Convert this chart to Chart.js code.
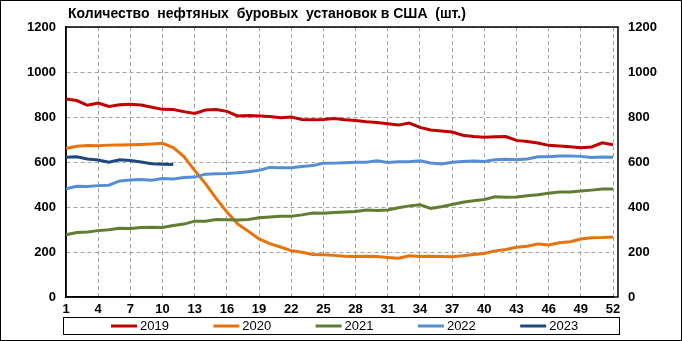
<!DOCTYPE html>
<html>
<head>
<meta charset="utf-8">
<script src="https://cdn.jsdelivr.net/npm/chart.js@4/dist/chart.umd.min.js"></script>
<style>
  html, body { margin: 0; padding: 0; background: #fff; }
</style>
</head>
<body>
<canvas id="chart" width="682" height="341"></canvas>
<script>
// weeks of the year
const weeks = ["1","2","3","4","5","6","7","8","9","10","11","12","13","14","15","16","17","18","19","20",
  "21","22","23","24","25","26","27","28","29","30","31","32","33","34","35","36","37","38","39","40",
  "41","42","43","44","45","46","47","48","49","50","51","52"];
const years = ["2019", "2020", "2021", "2022", "2023"];
const yTicks = [0, 200, 400, 600, 800, 1000, 1200];

const rigs2019 = [880, 873, 852, 862, 847, 854, 857, 853, 843, 834, 833, 824, 816, 831, 833, 825, 805, 807, 805, 802,
  797, 800, 789, 788, 789, 793, 788, 784, 779, 776, 770, 764, 773, 754, 742, 738, 733, 719, 713, 710,
  712, 713, 696, 691, 684, 674, 671, 668, 663, 667, 685, 677];
const rigs2020 = [660, 670, 673, 672, 675, 676, 677, 678, 680, 683, 664, 624, 562, 504, 438, 378, 325, 292, 258, 237,
  222, 206, 199, 189, 188, 185, 181, 180, 181, 180, 176, 172, 183, 180, 181, 180, 179, 183, 189, 193,
  205, 211, 221, 226, 236, 231, 241, 246, 258, 263, 264, 267];
const rigs2021 = [277, 287, 289, 295, 299, 306, 305, 309, 310, 309, 318, 324, 337, 337, 344, 343, 342, 344, 352, 356,
  359, 359, 365, 373, 372, 376, 378, 380, 387, 385, 387, 397, 405, 410, 394, 401, 411, 421, 428, 433,
  445, 443, 444, 450, 454, 461, 467, 467, 471, 475, 480, 480];
const rigs2022 = [481, 492, 491, 495, 497, 516, 520, 522, 519, 527, 524, 531, 533, 546, 548, 549, 552, 557, 563, 576,
  574, 574, 580, 584, 594, 595, 597, 599, 599, 605, 598, 601, 601, 605, 596, 591, 599, 602, 604, 602,
  610, 612, 610, 613, 623, 623, 627, 627, 625, 620, 622, 621];
const rigs2023 = [621, 623, 613, 609, 599, 610, 607, 600, 592, 590, 589];

const colors = ["#c00000", "#e8730c", "#617d31", "#558ed5", "#1f497d"];
const series = [rigs2019, rigs2020, rigs2021, rigs2022, rigs2023];

const titleText = "Количество  нефтяных  буровых  установок в США  (шт.)";
const FONT = "'Liberation Sans Narrow', 'Liberation Sans', Arial, sans-serif";

const decor = {
  id: "decor",
  beforeDatasetsDraw(chart) {
    // plot frame, a bit wider than the last week
    const a = chart.chartArea;
    const c = chart.ctx;
    c.save();
    c.strokeStyle = "#000";
    c.lineWidth = 1.5;
    c.strokeRect(a.left, a.top, 618 - a.left, a.bottom - a.top);
    c.restore();
  },
  afterDraw(chart) {
    const c = chart.ctx;
    c.save();
    c.fillStyle = "#000";
    c.font = "bold 14px " + FONT;
    c.textBaseline = "middle";
    c.textAlign = "left";
    c.fillText(titleText, 68, 14);
    // legend box
    c.strokeStyle = "#000";
    c.lineWidth = 1;
    c.strokeRect(63.5, 317.5, 556, 17);
    c.font = "13px " + FONT;
    chart.data.datasets.forEach((ds, i) => {
      const x = 111 + i * 102.3;
      c.strokeStyle = ds.borderColor;
      c.lineWidth = 3;
      c.beginPath();
      c.moveTo(x, 326);
      c.lineTo(x + 26, 326);
      c.stroke();
      c.fillStyle = "#000";
      c.fillText(ds.label, x + 29, 326.5);
    });
    c.strokeStyle = "#000";
    c.lineWidth = 1;
    c.strokeRect(0.5, 0.5, chart.width - 1, chart.height - 1);
    c.restore();
  }
};

const tickFont = { family: FONT, size: 13, weight: "bold" };
const gridColor = "#a3a3a3";

new Chart(document.getElementById("chart").getContext("2d"), {
  type: "line",
  data: {
    labels: weeks,
    datasets: years.map((y, i) => ({
      label: y,
      data: series[i],
      borderColor: colors[i],
      backgroundColor: colors[i],
      borderWidth: 3,
      pointRadius: 0,
      tension: 0,
      fill: false,
      order: 5 - i
    }))
  },
  options: {
    responsive: false,
    animation: false,
    devicePixelRatio: 1,
    layout: { padding: { top: 27, left: 0, right: 0, bottom: 24 } },
    plugins: {
      legend: { display: false },
      title: { display: false },
      tooltip: { enabled: false }
    },
    scales: {
      x: {
        type: "category",
        offset: false,
        afterFit: (s) => { s.height = 20; },
        grid: {
          color: (ctx) => (ctx.index > 0 && ctx.index % 3 === 0) ? gridColor : "rgba(0,0,0,0)",
          lineWidth: 1,
          drawTicks: false
        },
        border: { display: true, color: "#000", width: 1.5, dash: [4, 3] },
        ticks: {
          autoSkip: false,
          maxRotation: 0,
          padding: 5,
          color: "#000",
          font: tickFont,
          callback: (v, i) => (i % 3 === 0 ? weeks[i] : "")
        }
      },
      y: {
        position: "left",
        min: 0,
        max: 1200,
        afterFit: (s) => { s.width = 66; },
        afterBuildTicks: (s) => { s.ticks = yTicks.map((v) => ({ value: v })); },
        grid: { color: gridColor, lineWidth: 1, drawTicks: false },
        border: { display: true, color: "#000", width: 1.5, dash: [4, 3] },
        ticks: { padding: 10, color: "#000", font: tickFont, callback: (v) => String(v) }
      },
      y2: {
        position: "right",
        min: 0,
        max: 1200,
        afterFit: (s) => { s.width = 69; },
        afterBuildTicks: (s) => { s.ticks = yTicks.map((v) => ({ value: v })); },
        grid: { display: false, drawTicks: false },
        border: { display: false },
        ticks: { padding: 15, color: "#000", font: tickFont, callback: (v) => String(v) }
      }
    }
  },
  plugins: [decor]
});
</script>
</body>
</html>
